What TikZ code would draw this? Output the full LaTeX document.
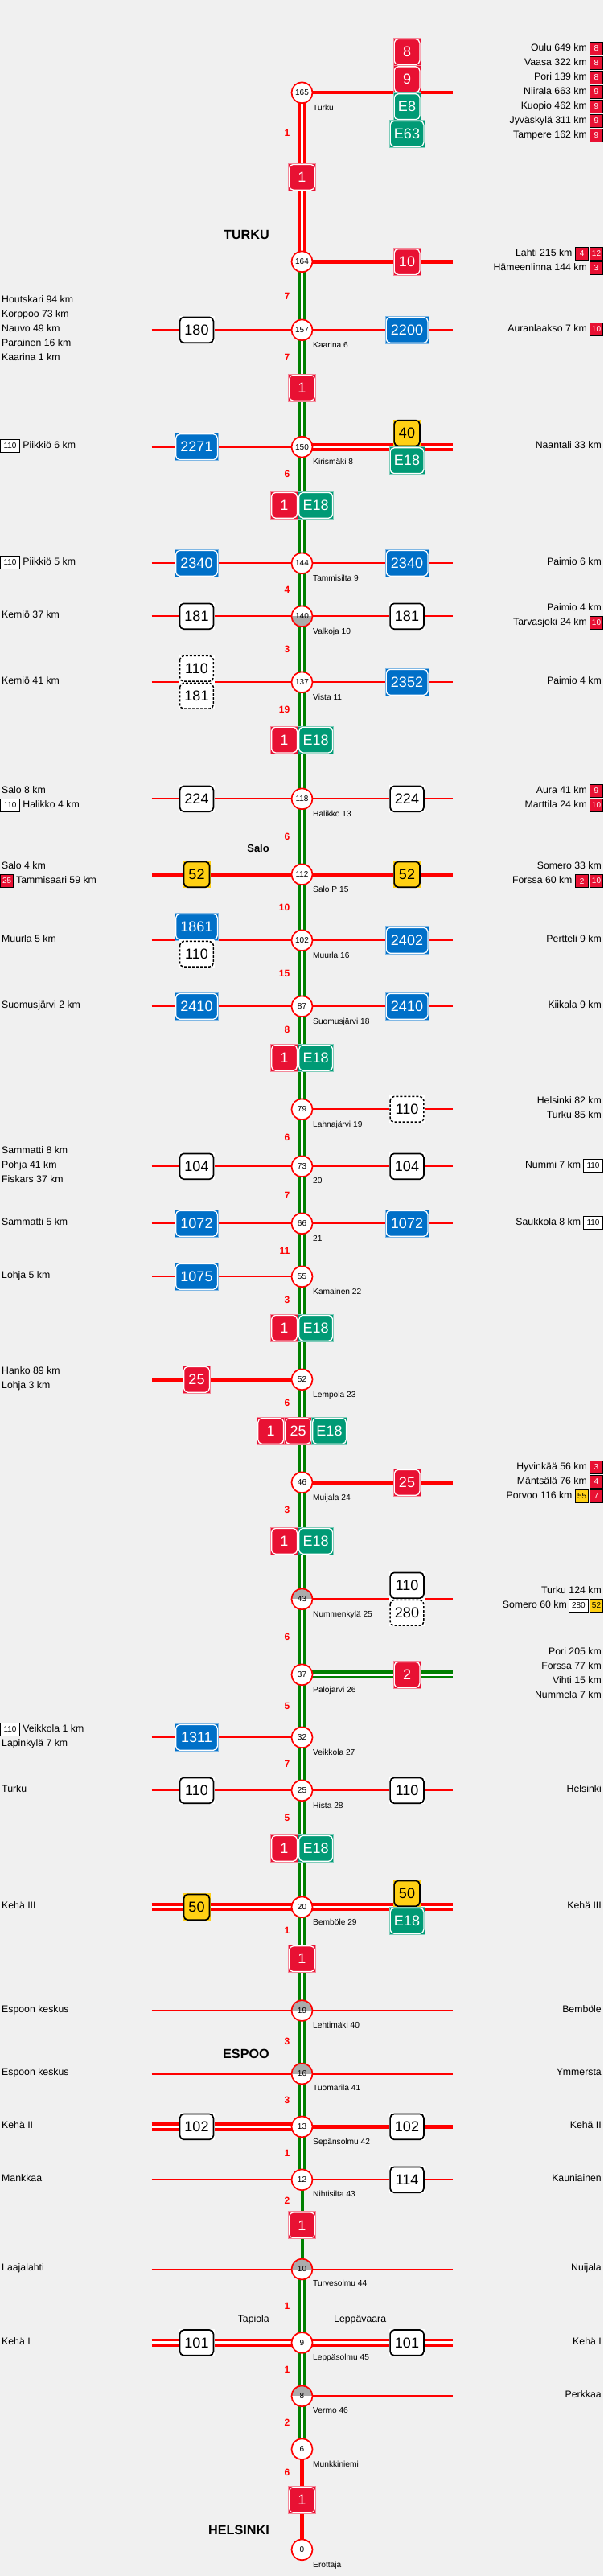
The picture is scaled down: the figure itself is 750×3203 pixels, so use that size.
\documentclass[tikz,border=0pt]{standalone}
\usepackage{fontspec}
\setmainfont{Liberation Sans}
\usetikzlibrary{backgrounds}

\definecolor{pagebg}{HTML}{F0F0F0}
\definecolor{roadred}{HTML}{FF0000}
\definecolor{roadgreen}{HTML}{008000}
\definecolor{signred}{HTML}{E81133}
\definecolor{signgreen}{HTML}{009A75}
\definecolor{signblue}{HTML}{0070C8}
\definecolor{signyellow}{HTML}{FFD014}
\definecolor{halfgray}{HTML}{ABABAB}

\tikzset{
  tile/.style n args={2}{rectangle, inner sep=0pt, minimum height=34pt, fill=#1,
    font=\fontsize{18}{20}\selectfont,
    path picture={\draw[#2, rounded corners=5pt]
      ([xshift=1.1pt,yshift=-1.1pt]path picture bounding box.north west) rectangle
      ([xshift=-1.1pt,yshift=1.1pt]path picture bounding box.south east);}},
  redsign/.style={tile={signred}{white, line width=1.3pt}, draw=signred!50!white, line width=.7pt, text=white, minimum width=34pt},
  greensign/.style={tile={signgreen}{white, line width=1.3pt}, draw=signgreen!50!white, line width=.7pt, text=white, minimum width=44pt},
  bluesign/.style={tile={signblue}{white, line width=1.3pt}, draw=signblue!50!white, line width=.7pt, text=white, minimum width=54pt},
  yellowsign/.style={tile={signyellow}{black, line width=1.7pt}, text=black, minimum width=34pt},
  whitesign/.style={tile={white}{black, line width=1.7pt}, text=black, minimum width=44pt},
  dashsign/.style={tile={white}{black, line width=1.5pt, dash pattern=on 3pt off 2pt}, text=black, minimum width=44pt},
  junc/.style={circle, draw=roadred, fill=white, line width=1.7pt, inner sep=0pt, minimum size=26pt, font=\fontsize{10}{12}\selectfont},
  junctop/.style={junc, path picture={\fill[halfgray] (path picture bounding box.west) rectangle (path picture bounding box.north east);}},
  juncbot/.style={junc, path picture={\fill[halfgray] (path picture bounding box.west) rectangle (path picture bounding box.south east);}},
  place/.style={inner sep=0pt, text height=10pt, text depth=2pt, font=\fontsize{12.3}{14}\selectfont},
  placeL/.style={place, anchor=west},
  placeR/.style={place, anchor=east},
  stopname/.style={anchor=west, inner sep=0pt, text height=9pt, text depth=2pt, font=\fontsize{10.2}{12}\selectfont},
  kmlabel/.style={anchor=east, inner sep=0pt, text=roadred, font=\bfseries\fontsize{12}{14}\selectfont},
  town/.style={anchor=east, inner sep=0pt, font=\bfseries\fontsize{16.2}{18}\selectfont},
  chip/.style={rectangle, draw=black, line width=1pt, inner sep=0pt, minimum height=15.5pt, minimum width=15.7pt, font=\fontsize{10}{12}\selectfont},
  chipred/.style={chip, fill=signred, text=white},
  chipyellow/.style={chip, fill=signyellow},
  chipwhite/.style={chip, fill=white, minimum width=23.5pt},
  dualred/.style={draw=roadred, double=white, line width=3.4pt, double distance=3.4pt},
  dualgreen/.style={draw=roadgreen, double=white, line width=3.4pt, double distance=3.4pt},
  monogreen/.style={draw=roadgreen, line width=4pt},
  thickred/.style={draw=roadred, line width=4.4pt},
  thinred/.style={draw=roadred, line width=2pt}
}

\begin{document}
\begin{tikzpicture}[x=1pt, y=-1pt]
        \def\xMid{375.5} \def\xSL{244.5} \def\xSR{506}
        \def\xEL{188.5} \def\xER{562.5}
        \def\xTL{2} \def\xTR{748} \def\xTC{730} \def\xStop{389} \def\xKm{360.5} \def\xTown{335}
        \def\xCa{741.5} \def\xCb{723.7}
        \useasboundingbox (0,0) rectangle (750,3203);

        % Liittymat
        \node[junc] (j165) at (\xMid,115.3) {165};
        \node[junc] (j164) at (\xMid,325.3) {164};
        \node[junc] (j157) at (\xMid,410.3) {157};
        \node[junc] (j150) at (\xMid,555.7) {150};
        \node[junc] (j144) at (\xMid,700.3) {144};
        \node[juncbot] (j140) at (\xMid,766.3) {140};
        \node[junc] (j137) at (\xMid,848.3) {137};
        \node[junc] (j118) at (\xMid,993.3) {118};
        \node[junc] (j112) at (\xMid,1087.3) {112};
        \node[junc] (j102) at (\xMid,1169.3) {102};
        \node[junc] (j87) at (\xMid,1251.3) {87};
        \node[junc] (j79) at (\xMid,1379.3) {79};
        \node[junc] (j73) at (\xMid,1450.3) {73};
        \node[junc] (j66) at (\xMid,1521.3) {66};
        \node[junc] (j55) at (\xMid,1587.3) {55};
        \node[junc] (j52) at (\xMid,1715.3) {52};
        \node[junc] (j46) at (\xMid,1843.3) {46};
        \node[junctop] (j43) at (\xMid,1988.3) {43};
        \node[junc] (j37) at (\xMid,2082.3) {37};
        \node[junc] (j32) at (\xMid,2160.3) {32};
        \node[junc] (j25) at (\xMid,2226.3) {25};
        \node[junc] (j20) at (\xMid,2371.3) {20};
        \node[junctop] (j19) at (\xMid,2500) {19};
        \node[junctop] (j16) at (\xMid,2578.5) {16};
        \node[junc] (j13) at (\xMid,2644.4) {13};
        \node[junc] (j12) at (\xMid,2710.3) {12};
        \node[junctop] (j10) at (\xMid,2821.5) {10};
        \node[junc] (j9) at (\xMid,2912.9) {9};
        \node[junctop] (j8) at (\xMid,2979.3) {8};
        \node[junc] (j6) at (\xMid,3045.2) {6};
        \node[junc] (j0) at (\xMid,3170.3) {0};

        % Tien vapaat paat
        \coordinate (r165) at (\xER,115.3);
        \coordinate (r164) at (\xER,325.3);
        \coordinate (l157) at (\xEL,410.3);
        \coordinate (r157) at (\xER,410.3);
        \coordinate (l150) at (\xEL,555.7);
        \coordinate (r150) at (\xER,555.7);
        \coordinate (l144) at (\xEL,700.3);
        \coordinate (r144) at (\xER,700.3);
        \coordinate (l140) at (\xEL,766.3);
        \coordinate (r140) at (\xER,766.3);
        \coordinate (l137) at (\xEL,848.3);
        \coordinate (r137) at (\xER,848.3);
        \coordinate (l118) at (\xEL,993.3);
        \coordinate (r118) at (\xER,993.3);
        \coordinate (l112) at (\xEL,1087.3);
        \coordinate (r112) at (\xER,1087.3);
        \coordinate (l102) at (\xEL,1169.3);
        \coordinate (r102) at (\xER,1169.3);
        \coordinate (l87) at (\xEL,1251.3);
        \coordinate (r87) at (\xER,1251.3);
        \coordinate (r79) at (\xER,1379.3);
        \coordinate (l73) at (\xEL,1450.3);
        \coordinate (r73) at (\xER,1450.3);
        \coordinate (l66) at (\xEL,1521.3);
        \coordinate (r66) at (\xER,1521.3);
        \coordinate (l55) at (\xEL,1587.3);
        \coordinate (l52) at (\xEL,1715.3);
        \coordinate (r46) at (\xER,1843.3);
        \coordinate (r43) at (\xER,1988.3);
        \coordinate (r37) at (\xER,2082.3);
        \coordinate (l32) at (\xEL,2160.3);
        \coordinate (l25) at (\xEL,2226.3);
        \coordinate (r25) at (\xER,2226.3);
        \coordinate (l20) at (\xEL,2371.3);
        \coordinate (r20) at (\xER,2371.3);
        \coordinate (l19) at (\xEL,2500);
        \coordinate (r19) at (\xER,2500);
        \coordinate (l16) at (\xEL,2578.5);
        \coordinate (r16) at (\xER,2578.5);
        \coordinate (l13) at (\xEL,2644.4);
        \coordinate (r13) at (\xER,2644.4);
        \coordinate (l12) at (\xEL,2710.3);
        \coordinate (r12) at (\xER,2710.3);
        \coordinate (l10) at (\xEL,2821.5);
        \coordinate (r10) at (\xER,2821.5);
        \coordinate (l9) at (\xEL,2912.9);
        \coordinate (r9) at (\xER,2912.9);
        \coordinate (r8) at (\xER,2979.3);

        % Kilvet tien varrella
        \node[redsign] (s8) at (\xSR,64.5) {8};
        \node[redsign] (s9) at (\xSR,98.8) {9};
        \node[greensign, minimum width=34pt] (sE8) at (\xSR,132.7) {E8};
        \node[greensign] (sE63) at (\xSR,166.3) {E63};
        \node[redsign] (s10) at (\xSR,325.5) {10};
        \node[whitesign] (s180) at (\xSL,410.3) {180};
        \node[bluesign] (s2200) at (\xSR,410.3) {2200};
        \node[bluesign] (s2271) at (\xSL,555.7) {2271};
        \node[yellowsign] (s40) at (\xSR,538.5) {40};
        \node[greensign] (s150E) at (\xSR,572.7) {E18};
        \node[bluesign] (s2340l) at (\xSL,700.3) {2340};
        \node[bluesign] (s2340r) at (\xSR,700.3) {2340};
        \node[whitesign] (s181l) at (\xSL,766.3) {181};
        \node[whitesign] (s181r) at (\xSR,766.3) {181};
        \node[dashsign] (s137a) at (\xSL,831.3) {110};
        \node[dashsign] (s137b) at (\xSL,865.3) {181};
        \node[bluesign] (s2352) at (\xSR,848.3) {2352};
        \node[whitesign] (s224l) at (\xSL,993.3) {224};
        \node[whitesign] (s224r) at (\xSR,993.3) {224};
        \node[yellowsign] (s52l) at (\xSL,1087.3) {52};
        \node[yellowsign] (s52r) at (\xSR,1087.3) {52};
        \node[bluesign] (s1861) at (\xSL,1152.3) {1861};
        \node[dashsign] (s102a) at (\xSL,1186.3) {110};
        \node[bluesign] (s2402) at (\xSR,1169.3) {2402};
        \node[bluesign] (s2410l) at (\xSL,1251.3) {2410};
        \node[bluesign] (s2410r) at (\xSR,1251.3) {2410};
        \node[dashsign] (s79) at (\xSR,1379.3) {110};
        \node[whitesign] (s104l) at (\xSL,1450.3) {104};
        \node[whitesign] (s104r) at (\xSR,1450.3) {104};
        \node[bluesign] (s1072l) at (\xSL,1521.3) {1072};
        \node[bluesign] (s1072r) at (\xSR,1521.3) {1072};
        \node[bluesign] (s1075) at (\xSL,1587.3) {1075};
        \node[redsign] (s25l) at (\xSL,1715.3) {25};
        \node[redsign] (s25r) at (\xSR,1843.3) {25};
        \node[whitesign] (s43a) at (\xSR,1971.3) {110};
        \node[dashsign] (s43b) at (\xSR,2005.3) {280};
        \node[redsign] (s2) at (\xSR,2082.3) {2};
        \node[bluesign] (s1311) at (\xSL,2160.3) {1311};
        \node[whitesign] (s110l) at (\xSL,2226.3) {110};
        \node[whitesign] (s110r) at (\xSR,2226.3) {110};
        \node[yellowsign] (s50l) at (\xSL,2371.3) {50};
        \node[yellowsign] (s50r) at (\xSR,2354.3) {50};
        \node[greensign] (s20E) at (\xSR,2388.3) {E18};
        \node[whitesign] (s102l) at (\xSL,2644.4) {102};
        \node[whitesign] (s102r) at (\xSR,2644.4) {102};
        \node[whitesign] (s114) at (\xSR,2710.3) {114};
        \node[whitesign] (s101l) at (\xSL,2912.9) {101};
        \node[whitesign] (s101r) at (\xSR,2912.9) {101};

        % Kilvet paatiella
        \node[redsign] (m1a) at (\xMid,220.3) {1};
        \node[redsign] (m1b) at (\xMid,482.3) {1};
        \node[redsign] (m1c) at (353.5,628.3) {1};
        \node[greensign] (mEc) at (392.7,628.3) {E18};
        \node[redsign] (m1d) at (353.5,920) {1};
        \node[greensign] (mEd) at (392.7,920) {E18};
        \node[redsign] (m1e) at (353.5,1315.3) {1};
        \node[greensign] (mEe) at (392.7,1315.3) {E18};
        \node[redsign] (m1f) at (353.5,1651.3) {1};
        \node[greensign] (mEf) at (392.7,1651.3) {E18};
        \node[redsign] (m1g) at (336.7,1779.3) {1};
        \node[redsign] (m25g) at (370.7,1779.3) {25};
        \node[greensign] (mEg) at (409.5,1779.3) {E18};
        \node[redsign] (m1h) at (353.5,1916.3) {1};
        \node[greensign] (mEh) at (392.7,1916.3) {E18};
        \node[redsign] (m1i) at (353.5,2298.3) {1};
        \node[greensign] (mEi) at (392.7,2298.3) {E18};
        \node[redsign] (m1j) at (\xMid,2435.7) {1};
        \node[redsign] (m1k) at (\xMid,2766.8) {1};
        \node[redsign] (m1l) at (\xMid,3108.4) {1};

        % Tiet
        \begin{scope}[on background layer]
          \fill[pagebg] (0,0) rectangle (750,3203);
          \draw[dualred] (j165.center) -- (j164.center);
          \draw[dualgreen] (j164.center) -- (j12.center);
          \draw[monogreen] (j12.center) -- (j10.center);
          \draw[dualgreen] (j10.center) -- (j6.center);
          \draw[thickred] (j6.center) -- (j0.center);
          \draw[thickred] (j165.center) -- (r165);
          \draw[thickred] (j164.center) -- (r164);
          \draw[thinred] (l157) -- (r157);
          \draw[thinred] (l150) -- (j150.center);
          \draw[dualred] (j150.center) -- (r150);
          \draw[thinred] (l144) -- (r144);
          \draw[thinred] (l140) -- (r140);
          \draw[thinred] (l137) -- (r137);
          \draw[thinred] (l118) -- (r118);
          \draw[thickred] (l112) -- (r112);
          \draw[thinred] (l102) -- (r102);
          \draw[thinred] (l87) -- (r87);
          \draw[thinred] (j79.center) -- (r79);
          \draw[thinred] (l73) -- (r73);
          \draw[thinred] (l66) -- (r66);
          \draw[thinred] (l55) -- (j55.center);
          \draw[thickred] (l52) -- (j52.center);
          \draw[thickred] (j46.center) -- (r46);
          \draw[thinred] (j43.center) -- (r43);
          \draw[dualgreen] (j37.center) -- (r37);
          \draw[thinred] (l32) -- (j32.center);
          \draw[thinred] (l25) -- (r25);
          \draw[dualred] (l20) -- (r20);
          \draw[thinred] (l19) -- (r19);
          \draw[thinred] (l16) -- (r16);
          \draw[dualred] (l13) -- (j13.center);
          \draw[thickred] (j13.center) -- (r13);
          \draw[thinred] (l12) -- (r12);
          \draw[thinred] (l10) -- (r10);
          \draw[dualred] (l9) -- (r9);
          \draw[thinred] (j8.center) -- (r8);
        \end{scope}

        % Liittymien nimet
        \node[stopname] (n165) at (\xStop,133.7) {Turku};
        \node[stopname] (n157) at (\xStop,428.7) {Kaarina 6};
        \node[stopname] (n150) at (\xStop,573.7) {Kirismäki 8};
        \node[stopname] (n144) at (\xStop,718.7) {Tammisilta 9};
        \node[stopname] (n140) at (\xStop,784.7) {Valkoja 10};
        \node[stopname] (n137) at (\xStop,866.7) {Vista 11};
        \node[stopname] (n118) at (\xStop,1011.7) {Halikko 13};
        \node[stopname] (n112) at (\xStop,1105.7) {Salo P 15};
        \node[stopname] (n102) at (\xStop,1187.7) {Muurla 16};
        \node[stopname] (n87) at (\xStop,1269.7) {Suomusjärvi 18};
        \node[stopname] (n79) at (\xStop,1397.7) {Lahnajärvi 19};
        \node[stopname] (n73) at (\xStop,1468.3) {20};
        \node[stopname] (n66) at (\xStop,1539.7) {21};
        \node[stopname] (n55) at (\xStop,1605.7) {Kamainen 22};
        \node[stopname] (n52) at (\xStop,1733.7) {Lempola 23};
        \node[stopname] (n46) at (\xStop,1861.7) {Muijala 24};
        \node[stopname] (n43) at (\xStop,2006.7) {Nummenkylä 25};
        \node[stopname] (n37) at (\xStop,2100.7) {Palojärvi 26};
        \node[stopname] (n32) at (\xStop,2178.7) {Veikkola 27};
        \node[stopname] (n25) at (\xStop,2244.7) {Hista 28};
        \node[stopname] (n20) at (\xStop,2389.7) {Bemböle 29};
        \node[stopname] (n19) at (\xStop,2517.5) {Lehtimäki 40};
        \node[stopname] (n16) at (\xStop,2596.4) {Tuomarila 41};
        \node[stopname] (n13) at (\xStop,2662.8) {Sepänsolmu 42};
        \node[stopname] (n12) at (\xStop,2728.2) {Nihtisilta 43};
        \node[stopname] (n10) at (\xStop,2839.4) {Turvesolmu 44};
        \node[stopname] (n9) at (\xStop,2931.3) {Leppäsolmu 45};
        \node[stopname] (n8) at (\xStop,2997.2) {Vermo 46};
        \node[stopname] (n6) at (\xStop,3063.6) {Munkkiniemi};
        \node[stopname] (n0) at (\xStop,3188.7) {Erottaja};

        % Matkat
        \node[kmlabel] (k1) at (\xKm,165.7) {1};
        \node[kmlabel] (k2) at (\xKm,368.3) {7};
        \node[kmlabel] (k3) at (\xKm,444.3) {7};
        \node[kmlabel] (k4) at (\xKm,589.7) {6};
        \node[kmlabel] (k5) at (\xKm,733.7) {4};
        \node[kmlabel] (k6) at (\xKm,807.3) {3};
        \node[kmlabel] (k7) at (\xKm,882.7) {19};
        \node[kmlabel] (k8) at (\xKm,1040.7) {6};
        \node[kmlabel] (k9) at (\xKm,1128.7) {10};
        \node[kmlabel] (k10) at (\xKm,1210.7) {15};
        \node[kmlabel] (k11) at (\xKm,1280.7) {8};
        \node[kmlabel] (k12) at (\xKm,1414.7) {6};
        \node[kmlabel] (k13) at (\xKm,1486.7) {7};
        \node[kmlabel] (k14) at (\xKm,1555) {11};
        \node[kmlabel] (k15) at (\xKm,1616.3) {3};
        \node[kmlabel] (k16) at (\xKm,1744.7) {6};
        \node[kmlabel] (k17) at (\xKm,1877.3) {3};
        \node[kmlabel] (k18) at (\xKm,2035.7) {6};
        \node[kmlabel] (k19) at (\xKm,2121.7) {5};
        \node[kmlabel] (k20) at (\xKm,2193.7) {7};
        \node[kmlabel] (k21) at (\xKm,2260.7) {5};
        \node[kmlabel] (k22) at (\xKm,2400.7) {1};
        \node[kmlabel] (k23) at (\xKm,2538.6) {3};
        \node[kmlabel] (k24) at (\xKm,2611.6) {3};
        \node[kmlabel] (k25) at (\xKm,2677.5) {1};
        \node[kmlabel] (k26) at (\xKm,2736.7) {2};
        \node[kmlabel] (k27) at (\xKm,2867.6) {1};
        \node[kmlabel] (k28) at (\xKm,2946.6) {1};
        \node[kmlabel] (k29) at (\xKm,3012.5) {2};
        \node[kmlabel] (k30) at (\xKm,3074.3) {6};

        % Kaupungit
        \node[town] (tTurku) at (\xTown,292) {TURKU};
        \node[town, font=\bfseries\fontsize{13}{15}\selectfont] (tSalo) at (\xTown,1055.3) {Salo};
        \node[town] (tEspoo) at (\xTown,2553.8) {ESPOO};
        \node[town] (tHelsinki) at (\xTown,3146) {HELSINKI};
        \node[placeR] (tTapiola) at (\xTown,2883.8) {Tapiola};
        \node[placeL] (tLeppa) at (415,2883.8) {Leppävaara};

        % Vasen reuna
        \node[placeL] (a1) at (\xTL,372.7) {Houtskari 94 km};
        \node[placeL] (a2) at (\xTL,390.7) {Korppoo 73 km};
        \node[placeL] (a3) at (\xTL,408.7) {Nauvo 49 km};
        \node[placeL] (a4) at (\xTL,426.7) {Parainen 16 km};
        \node[placeL] (a5) at (\xTL,444.7) {Kaarina 1 km};
        \node[chipwhite] (ac1) at (12.5,554.3) {110};
        \node[placeL] (a6) at (28.2,553.7) {Piikkiö 6 km};
        \node[chipwhite] (ac2) at (12.5,699.3) {110};
        \node[placeL] (a7) at (28.2,698.7) {Piikkiö 5 km};
        \node[placeL] (a8) at (\xTL,764.7) {Kemiö 37 km};
        \node[placeL] (a9) at (\xTL,846.7) {Kemiö 41 km};
        \node[placeL] (a10) at (\xTL,982.7) {Salo 8 km};
        \node[chipwhite] (ac3) at (12.5,1001.3) {110};
        \node[placeL] (a11) at (28.2,1000.7) {Halikko 4 km};
        \node[placeL] (a12) at (\xTL,1076.7) {Salo 4 km};
        \node[chipred] (ac4) at (8.6,1095.3) {25};
        \node[placeL] (a13) at (20,1094.7) {Tammisaari 59 km};
        \node[placeL] (a14) at (\xTL,1167.7) {Muurla 5 km};
        \node[placeL] (a15) at (\xTL,1249.7) {Suomusjärvi 2 km};
        \node[placeL] (a16) at (\xTL,1430.7) {Sammatti 8 km};
        \node[placeL] (a17) at (\xTL,1448.7) {Pohja 41 km};
        \node[placeL] (a18) at (\xTL,1466.7) {Fiskars 37 km};
        \node[placeL] (a19) at (\xTL,1519.7) {Sammatti 5 km};
        \node[placeL] (a20) at (\xTL,1585.7) {Lohja 5 km};
        \node[placeL] (a21) at (\xTL,1704.7) {Hanko 89 km};
        \node[placeL] (a22) at (\xTL,1722.7) {Lohja 3 km};
        \node[chipwhite] (ac5) at (12.5,2150.3) {110};
        \node[placeL] (a23) at (28.2,2149.7) {Veikkola 1 km};
        \node[placeL] (a24) at (\xTL,2167.7) {Lapinkylä 7 km};
        \node[placeL] (a25) at (\xTL,2224.7) {Turku};
        \node[placeL] (a26) at (\xTL,2369.7) {Kehä III};
        \node[placeL] (a27) at (\xTL,2498.4) {Espoon keskus};
        \node[placeL] (a28) at (\xTL,2576.7) {Espoon keskus};
        \node[placeL] (a29) at (\xTL,2642.6) {Kehä II};
        \node[placeL] (a30) at (\xTL,2708.5) {Mankkaa};
        \node[placeL] (a31) at (\xTL,2819.7) {Laajalahti};
        \node[placeL] (a32) at (\xTL,2911.6) {Kehä I};

        % Oikea reuna
        \node[placeR] (b1) at (\xTC,59.7) {Oulu 649 km};
        \node[chipred] (bc1) at (\xCa,60.5) {8};
        \node[placeR] (b2) at (\xTC,77.7) {Vaasa 322 km};
        \node[chipred] (bc2) at (\xCa,78.5) {8};
        \node[placeR] (b3) at (\xTC,95.7) {Pori 139 km};
        \node[chipred] (bc3) at (\xCa,96.5) {8};
        \node[placeR] (b4) at (\xTC,113.7) {Niirala 663 km};
        \node[chipred] (bc4) at (\xCa,114.5) {9};
        \node[placeR] (b5) at (\xTC,131.7) {Kuopio 462 km};
        \node[chipred] (bc5) at (\xCa,132.5) {9};
        \node[placeR] (b6) at (\xTC,149.7) {Jyväskylä 311 km};
        \node[chipred] (bc6) at (\xCa,150.5) {9};
        \node[placeR] (b7) at (\xTC,167.7) {Tampere 162 km};
        \node[chipred] (bc7) at (\xCa,168.5) {9};
        \node[placeR] (b8) at (711.7,314.7) {Lahti 215 km};
        \node[chipred] (bc8) at (\xCb,315.5) {4};
        \node[chipred] (bc9) at (\xCa,315.5) {12};
        \node[placeR] (b9) at (\xTC,332.7) {Hämeenlinna 144 km};
        \node[chipred] (bc10) at (\xCa,333.5) {3};
        \node[placeR] (b10) at (\xTC,408.7) {Auranlaakso 7 km};
        \node[chipred] (bc11) at (\xCa,409.5) {10};
        \node[placeR] (b11) at (\xTR,553.7) {Naantali 33 km};
        \node[placeR] (b12) at (\xTR,698.7) {Paimio 6 km};
        \node[placeR] (b13) at (\xTR,755.7) {Paimio 4 km};
        \node[placeR] (b14) at (\xTC,773.7) {Tarvasjoki 24 km};
        \node[chipred] (bc12) at (\xCa,774.5) {10};
        \node[placeR] (b15) at (\xTR,846.7) {Paimio 4 km};
        \node[placeR] (b16) at (\xTC,982.7) {Aura 41 km};
        \node[chipred] (bc13) at (\xCa,983.5) {9};
        \node[placeR] (b17) at (\xTC,1000.7) {Marttila 24 km};
        \node[chipred] (bc14) at (\xCa,1001.5) {10};
        \node[placeR] (b18) at (\xTR,1076.7) {Somero 33 km};
        \node[placeR] (b19) at (711.7,1094.7) {Forssa 60 km};
        \node[chipred] (bc15) at (\xCb,1095.5) {2};
        \node[chipred] (bc16) at (\xCa,1095.5) {10};
        \node[placeR] (b20) at (\xTR,1167.7) {Pertteli 9 km};
        \node[placeR] (b21) at (\xTR,1249.7) {Kiikala 9 km};
        \node[placeR] (b22) at (\xTR,1368.7) {Helsinki 82 km};
        \node[placeR] (b23) at (\xTR,1386.7) {Turku 85 km};
        \node[placeR] (b24) at (722.3,1448.7) {Nummi 7 km};
        \node[chipwhite] (bc17) at (737.5,1449.3) {110};
        \node[placeR] (b25) at (722.3,1519.7) {Saukkola 8 km};
        \node[chipwhite] (bc18) at (737.5,1520.3) {110};
        \node[placeR] (b26) at (\xTC,1823.7) {Hyvinkää 56 km};
        \node[chipred] (bc19) at (\xCa,1824.5) {3};
        \node[placeR] (b27) at (\xTC,1841.7) {Mäntsälä 76 km};
        \node[chipred] (bc20) at (\xCa,1842.5) {4};
        \node[placeR] (b28) at (711.7,1859.7) {Porvoo 116 km};
        \node[chipyellow] (bc21) at (\xCb,1860.5) {55};
        \node[chipred] (bc22) at (\xCa,1860.5) {7};
        \node[placeR] (b29) at (\xTR,1977.7) {Turku 124 km};
        \node[placeR] (b30) at (705,1995.7) {Somero 60 km};
        \node[chipwhite] (bc23) at (719.4,1996.5) {280};
        \node[chipyellow] (bc24) at (\xCa,1996.5) {52};
        \node[placeR] (b31) at (\xTR,2053.7) {Pori 205 km};
        \node[placeR] (b32) at (\xTR,2071.7) {Forssa 77 km};
        \node[placeR] (b33) at (\xTR,2089.7) {Vihti 15 km};
        \node[placeR] (b34) at (\xTR,2107.7) {Nummela 7 km};
        \node[placeR] (b35) at (\xTR,2224.7) {Helsinki};
        \node[placeR] (b36) at (\xTR,2369.7) {Kehä III};
        \node[placeR] (b37) at (\xTR,2498.4) {Bemböle};
        \node[placeR] (b38) at (\xTR,2576.7) {Ymmersta};
        \node[placeR] (b39) at (\xTR,2642.6) {Kehä II};
        \node[placeR] (b40) at (\xTR,2708.5) {Kauniainen};
        \node[placeR] (b41) at (\xTR,2819.7) {Nuijala};
        \node[placeR] (b42) at (\xTR,2911.6) {Kehä I};
        \node[placeR] (b43) at (\xTR,2977.5) {Perkkaa};
      \end{tikzpicture}
\end{document}
